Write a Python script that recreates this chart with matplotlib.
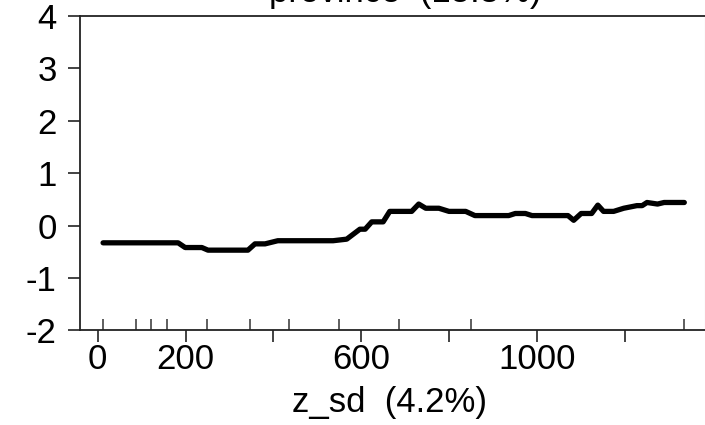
import matplotlib
matplotlib.use("Agg")
import matplotlib.pyplot as plt
from matplotlib.transforms import blended_transform_factory

plt.rcParams['font.family'] = ['Liberation Sans', 'DejaVu Sans']

# fitted function for z_sd
z_sd = [12, 183, 199, 237, 251, 342, 358, 381, 410, 536, 567, 597, 609, 624,
        650, 665, 715, 731, 747, 777, 800, 838, 859, 936, 951, 974, 989, 1071,
        1084, 1101, 1125, 1139, 1152, 1175, 1198, 1228, 1240, 1251, 1275, 1290, 1336]
fitted = [-0.33, -0.33, -0.42, -0.42, -0.47, -0.47, -0.35, -0.35, -0.29, -0.29,
          -0.26, -0.07, -0.07, 0.07, 0.07, 0.27, 0.27, 0.41, 0.33, 0.33, 0.27,
          0.27, 0.19, 0.19, 0.23, 0.23, 0.19, 0.19, 0.10, 0.23, 0.23, 0.39, 0.27,
          0.27, 0.33, 0.38, 0.38, 0.44, 0.41, 0.44, 0.44]

# deciles of z_sd for the rug
deciles = [11, 88, 121, 158, 249, 347, 436, 550, 686, 851, 1336]

xticks = [0, 200, 400, 600, 800, 1000, 1200]
xticklabels = ['0', '200', '', '600', '', '1000', '']
yticks = [-2, -1, 0, 1, 2, 3, 4]

W, H = 705, 425
fig = plt.figure(figsize=(W / 100, H / 100), dpi=100)
ax = fig.add_axes([79.5 / W, (H - 330.3) / H, 625 / W, 314.3 / H])

ax.plot(z_sd, fitted, color='black', lw=3.8, solid_capstyle='round',
        solid_joinstyle='round')

trans = blended_transform_factory(ax.transData, ax.transAxes)
ax.vlines(deciles, 0, 11.5 / 314.3, color='#333333', lw=1.1, transform=trans)

ax.set_xlim(-41.7, 1382)
ax.set_ylim(-2, 4)
ax.set_xticks(xticks)
ax.set_xticklabels(xticklabels)
ax.set_yticks(yticks)
ax.set_yticklabels([str(v) for v in yticks])

for side in ['left', 'bottom', 'top']:
    ax.spines[side].set_linewidth(1.3)
    ax.spines[side].set_color('#222222')
ax.spines['right'].set_color('#d8d8d8')
ax.spines['right'].set_linewidth(0.8)

ax.tick_params(axis='both', direction='out', length=8.3, width=1.2,
               color='#222222', labelsize=25)
ax.tick_params(axis='y', pad=8)
ax.tick_params(axis='x', pad=1)

fig.text(390 / W, 1 - 411.7 / H, 'z_sd  (4.2%)', fontsize=25,
         ha='center', va='baseline')
fig.text(405 / W, 1 - 2.0 / H, 'province  (15.3%)', fontsize=25,
         ha='center', va='baseline')

fig.savefig('out.png', dpi=100)
